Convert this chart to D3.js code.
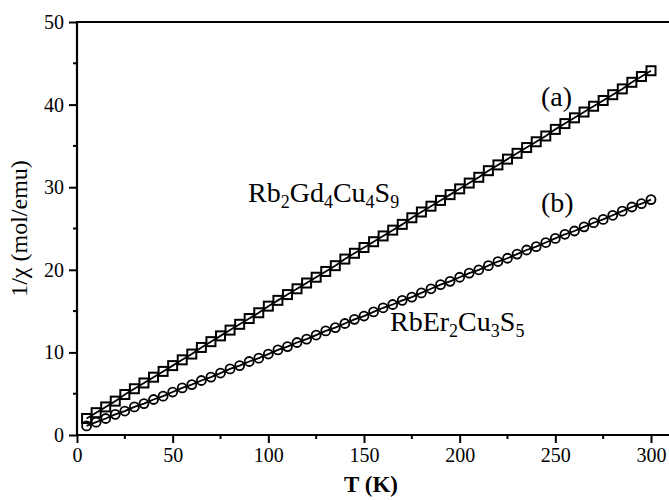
<!DOCTYPE html>
<html>
<head>
<meta charset="utf-8">
<script src="https://cdn.jsdelivr.net/npm/d3@7"></script>
<style>
    body { margin: 0; background: #fff; }
    svg text { font-family: "Liberation Serif", "Times New Roman", serif; fill: #000; }
</style>
</head>
<body>
<div class="container"></div>
<script>
const width = 669;
const height = 500;
const margin = { top: 22, left: 77, bottom: 65 };
const serif = '"Liberation Serif", "Times New Roman", serif';

// temperatures (K), same for both samples
const temps = d3.range(5, 301, 5);
// (a) Rb2Gd4Cu4S9, 1/chi (mol/emu)
const gdValues = [2.0, 2.7, 3.4, 4.1, 4.9, 5.6, 6.3, 7.0, 7.7, 8.4, 9.1, 9.8, 10.6, 11.3, 12.0,
    12.7, 13.4, 14.1, 14.8, 15.6, 16.3, 17.0, 17.7, 18.4, 19.1, 19.8, 20.5, 21.3, 22.0, 22.7,
    23.4, 24.1, 24.8, 25.5, 26.3, 27.0, 27.7, 28.4, 29.1, 29.8, 30.5, 31.2, 32.0, 32.7, 33.4,
    34.1, 34.8, 35.5, 36.2, 37.0, 37.7, 38.4, 39.1, 39.8, 40.5, 41.2, 41.9, 42.7, 43.4, 44.1];
// (b) RbEr2Cu3S5
const erValues = [1.1, 1.55, 2.0, 2.5, 2.9, 3.4, 3.8, 4.3, 4.7, 5.2, 5.7, 6.1, 6.6, 7.0, 7.5,
    8.0, 8.4, 8.9, 9.3, 9.8, 10.3, 10.7, 11.2, 11.6, 12.1, 12.6, 13.0, 13.5, 14.0, 14.4,
    14.9, 15.4, 15.8, 16.3, 16.7, 17.2, 17.7, 18.2, 18.6, 19.1, 19.6, 20.0, 20.5, 21.0, 21.4,
    21.9, 22.4, 22.8, 23.3, 23.8, 24.3, 24.7, 25.2, 25.7, 26.1, 26.6, 27.1, 27.6, 28.0, 28.5];
const xTicks = [0, 50, 100, 150, 200, 250, 300];
const yTicks = [0, 10, 20, 30, 40, 50];

const svg = d3.select('.container')
    .append('svg')
    .attr('width', width)
    .attr('height', height);

// right end of the frame falls outside the picture
const x = d3.scaleLinear().domain([0, 300]).range([margin.left, 651]);
const y = d3.scaleLinear().domain([0, 50]).range([height - margin.bottom, margin.top]);

const xAxis = d3.axisBottom(x).tickValues(xTicks).tickSize(8).tickPadding(5);
const yAxis = d3.axisLeft(y).tickValues(yTicks).tickSize(8).tickPadding(5);

const gx = svg.append('g')
    .attr('transform', `translate(0,${y(0)})`)
    .call(xAxis);
const gy = svg.append('g')
    .attr('transform', `translate(${margin.left},0)`)
    .call(yAxis);

[gx, gy].forEach(g => {
    g.attr('font-family', serif).attr('font-size', 20);
    g.select('.domain').remove();
    g.selectAll('line').attr('stroke', '#000').attr('stroke-width', 2);
    g.selectAll('text')
        .attr('fill', '#000')
        .style('font-family', serif)
        .style('font-size', '20px');
});

// minor ticks
svg.append('g').selectAll('line')
    .data(d3.range(25, 300, 50))
    .join('line')
    .attr('x1', d => x(d)).attr('x2', d => x(d))
    .attr('y1', y(0)).attr('y2', y(0) + 4)
    .attr('stroke', '#000').attr('stroke-width', 2);
svg.append('g').selectAll('line')
    .data(d3.range(5, 50, 10))
    .join('line')
    .attr('x1', margin.left - 4).attr('x2', margin.left)
    .attr('y1', d => y(d)).attr('y2', d => y(d))
    .attr('stroke', '#000').attr('stroke-width', 2);

// frame: left, bottom, top (right edge is cut off)
svg.append('path')
    .attr('d', `M${width + 2},${y(50)}H${margin.left}V${y(0)}H${width + 2}`)
    .attr('fill', 'none')
    .attr('stroke', '#000')
    .attr('stroke-width', 2.2);

const gdData = temps.map((t, i) => ({ t, v: gdValues[i] }));
const erData = temps.map((t, i) => ({ t, v: erValues[i] }));

const line = d3.line().x(d => x(d.t)).y(d => y(d.v));

svg.append('g').selectAll('rect')
    .data(gdData)
    .join('rect')
    .attr('x', d => x(d.t) - 4.5)
    .attr('y', d => y(d.v) - 4.5)
    .attr('width', 9)
    .attr('height', 9)
    .attr('fill', 'none')
    .attr('stroke', '#000')
    .attr('stroke-width', 2);

svg.append('g').selectAll('circle')
    .data(erData)
    .join('circle')
    .attr('cx', d => x(d.t))
    .attr('cy', d => y(d.v))
    .attr('r', 4.5)
    .attr('fill', 'none')
    .attr('stroke', '#000')
    .attr('stroke-width', 1.8);

// fit lines
[gdData, erData].forEach(data => {
    svg.append('path')
        .datum(data)
        .attr('d', line)
        .attr('fill', 'none')
        .attr('stroke', '#000')
        .attr('stroke-width', 1.8);
});

// labels
function formula(xPos, yPos, parts) {
    const t = svg.append('text')
        .attr('x', xPos)
        .attr('y', yPos)
        .style('font-family', serif)
        .style('font-size', '28px');
    parts.forEach(p => {
        if (p.sub) {
            t.append('tspan').attr('dy', 6).style('font-size', '18px').text(p.s);
        } else {
            t.append('tspan').attr('dy', p.after ? -6 : 0).text(p.s);
        }
    });
}
formula(248, 202, [{ s: 'Rb' }, { s: '2', sub: true }, { s: 'Gd', after: true }, { s: '4', sub: true },
    { s: 'Cu', after: true }, { s: '4', sub: true }, { s: 'S', after: true }, { s: '9', sub: true }]);
formula(390, 331, [{ s: 'RbEr' }, { s: '2', sub: true }, { s: 'Cu', after: true }, { s: '3', sub: true },
    { s: 'S', after: true }, { s: '5', sub: true }]);

svg.append('text').attr('x', 541).attr('y', 106)
    .style('font-family', serif).style('font-size', '28px').text('(a)');
svg.append('text').attr('x', 541).attr('y', 212)
    .style('font-family', serif).style('font-size', '28px').text('(b)');

svg.append('text')
    .attr('x', 371)
    .attr('y', 492)
    .attr('text-anchor', 'middle')
    .style('font-family', serif)
    .style('font-size', '23px')
    .style('font-weight', 'bold')
    .text('T (K)');

svg.append('text')
    .attr('transform', `translate(27,${(y(0) + y(50)) / 2}) rotate(-90)`)
    .attr('text-anchor', 'middle')
    .style('font-family', serif)
    .style('font-size', '24px')
    .text('1/χ (mol/emu)');
</script>
</body>
</html>
